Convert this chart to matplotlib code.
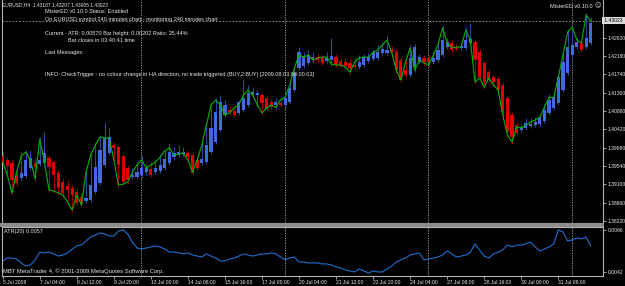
import matplotlib
matplotlib.use("Agg")
import matplotlib.pyplot as plt
from matplotlib.patches import Rectangle
import numpy as np

# ---------------- data ----------------
# Heiken-Ashi candles (EURUSD H4)
ha_open = [1.3978,1.3968,1.3961,1.3932,1.3925,1.3930,1.3949,1.3961,1.3958,1.3961,
           1.3973,1.3963,1.3937,1.3915,1.3906,1.3901,1.3891,1.3879,1.3870,1.3872,
           1.3891,1.3913,1.3956,1.3985,1.4004,1.3999,1.3978,1.3949,1.3927,1.3927,
           1.3932,1.3939,1.3946,1.3939,1.3942,1.3949,1.3961,1.3975,1.3980,1.3982,
           1.3985,1.3980,1.3968,1.3961,1.3963,1.3987,1.4011,1.4040,1.4076,1.4088,
           1.4086,1.4081,1.4088,1.4100,1.4124,1.4124,1.4124,1.4117,1.4107,1.4100,
           1.4105,1.4100,1.4107,1.4136,1.4189,1.4194,1.4201,1.4210,1.4215,1.4213,
           1.4206,1.4208,1.4215,1.4206,1.4203,1.4201,1.4196,1.4191,1.4196,1.4206,
           1.4210,1.4213,1.4225,1.4225,1.4232,1.4227,1.4208,1.4184,1.4172,1.4191,
           1.4203,1.4213,1.4213,1.4203,1.4208,1.4220,1.4239,1.4249,1.4239,1.4237,
           1.4237,1.4249,1.4251,1.4227,1.4201,1.4179,1.4167,1.4162,1.4148,1.4117,
           1.4076,1.4052,1.4040,1.4045,1.4050,1.4052,1.4054,1.4062,1.4081,1.4093,
           1.4105,1.4136,1.4177,1.4220,1.4239,1.4249,1.4239,1.4249]
ha_close = [1.3963,1.3954,1.3920,1.3913,1.3937,1.3968,1.3973,1.3951,1.3968,1.3985,
            1.3951,1.3932,1.3901,1.3889,1.3896,1.3884,1.3865,1.3862,1.3877,1.3908,
            1.3951,1.3992,1.4021,1.4023,1.3997,1.3956,1.3915,1.3920,1.3932,1.3939,
            1.3949,1.3949,1.3932,1.3949,1.3956,1.3970,1.3987,1.3985,1.3987,1.3987,
            1.3975,1.3937,1.3949,1.3970,1.4004,1.4045,1.4083,1.4107,1.4100,1.4083,
            1.4076,1.4107,1.4117,1.4129,1.4131,1.4129,1.4105,1.4093,1.4095,1.4107,
            1.4100,1.4117,1.4141,1.4177,1.4227,1.4218,1.4220,1.4215,1.4208,1.4201,
            1.4213,1.4218,1.4196,1.4194,1.4194,1.4189,1.4191,1.4203,1.4215,1.4215,
            1.4227,1.4227,1.4234,1.4232,1.4227,1.4184,1.4160,1.4172,1.4213,1.4239,
            1.4215,1.4203,1.4203,1.4213,1.4232,1.4256,1.4251,1.4232,1.4234,1.4242,
            1.4256,1.4258,1.4208,1.4167,1.4155,1.4160,1.4155,1.4136,1.4083,1.4035,
            1.4023,1.4033,1.4047,1.4057,1.4054,1.4059,1.4069,1.4088,1.4112,1.4119,
            1.4167,1.4203,1.4239,1.4244,1.4251,1.4232,1.4261,1.4297]
ha_high = [1.3987,1.3975,1.3968,1.3949,1.3987,1.3992,1.3992,1.3973,1.4023,1.4035,
           1.3980,1.3968,1.3944,1.3925,1.3920,1.3908,1.3901,1.3889,1.3944,1.3985,
           1.4009,1.4028,1.4059,1.4045,1.4011,1.4004,1.3982,1.3956,1.3949,1.3963,
           1.3980,1.3958,1.3963,1.3968,1.3980,1.3994,1.4009,1.3999,1.4004,1.3999,
           1.3992,1.3987,1.3975,1.4009,1.4057,1.4105,1.4117,1.4124,1.4112,1.4098,
           1.4098,1.4112,1.4160,1.4148,1.4141,1.4136,1.4131,1.4124,1.4114,1.4117,
           1.4119,1.4126,1.4155,1.4194,1.4239,1.4227,1.4232,1.4227,1.4222,1.4220,
           1.4227,1.4261,1.4222,1.4213,1.4213,1.4208,1.4213,1.4220,1.4222,1.4225,
           1.4234,1.4244,1.4251,1.4268,1.4242,1.4234,1.4215,1.4213,1.4244,1.4246,
           1.4222,1.4220,1.4220,1.4227,1.4251,1.4292,1.4261,1.4256,1.4246,1.4249,
           1.4287,1.4297,1.4258,1.4234,1.4208,1.4186,1.4174,1.4170,1.4155,1.4124,
           1.4083,1.4059,1.4054,1.4069,1.4069,1.4071,1.4078,1.4102,1.4126,1.4126,
           1.4174,1.4227,1.4280,1.4292,1.4263,1.4256,1.4321,1.4311]
ha_low = [1.3956,1.3927,1.3884,1.3906,1.3920,1.3925,1.3944,1.3918,1.3954,1.3956,
          1.3891,1.3889,1.3884,1.3879,1.3862,1.3843,1.3860,1.3855,1.3865,1.3867,
          1.3886,1.3908,1.3951,1.3980,1.3963,1.3903,1.3906,1.3910,1.3922,1.3922,
          1.3927,1.3932,1.3927,1.3934,1.3937,1.3944,1.3956,1.3970,1.3975,1.3978,
          1.3963,1.3932,1.3944,1.3956,1.3958,1.3982,1.4006,1.4035,1.4071,1.4076,
          1.4071,1.4076,1.4083,1.4095,1.4119,1.4095,1.4076,1.4088,1.4090,1.4090,
          1.4095,1.4095,1.4102,1.4131,1.4184,1.4189,1.4196,1.4203,1.4203,1.4196,
          1.4201,1.4194,1.4191,1.4189,1.4186,1.4174,1.4186,1.4186,1.4191,1.4201,
          1.4206,1.4208,1.4220,1.4220,1.4222,1.4179,1.4155,1.4167,1.4167,1.4179,
          1.4198,1.4196,1.4191,1.4198,1.4203,1.4215,1.4234,1.4227,1.4230,1.4232,
          1.4232,1.4244,1.4150,1.4160,1.4138,1.4155,1.4143,1.4131,1.4071,1.4023,
          1.4006,1.4028,1.4035,1.4040,1.4045,1.4047,1.4050,1.4057,1.4076,1.4088,
          1.4100,1.4131,1.4172,1.4215,1.4234,1.4227,1.4234,1.4244]
# actual close price line (green)
close = [1.3963,1.3932,1.3889,1.3939,1.3978,1.3987,1.3968,1.3922,1.4018,1.3963,
         1.3896,1.3894,1.3889,1.3884,1.3867,1.3848,1.3884,1.3860,1.3939,1.3980,
         1.4004,1.4023,1.4021,1.4021,1.3968,1.3908,1.3910,1.3915,1.3939,1.3956,
         1.3968,1.3949,1.3956,1.3963,1.3975,1.3990,1.3997,1.3980,1.3982,1.3985,
         1.3968,1.3939,1.3968,1.4004,1.4052,1.4100,1.4112,1.4100,1.4076,1.4081,
         1.4093,1.4100,1.4124,1.4136,1.4124,1.4100,1.4081,1.4093,1.4100,1.4095,
         1.4112,1.4119,1.4148,1.4189,1.4220,1.4215,1.4220,1.4208,1.4213,1.4215,
         1.4215,1.4198,1.4196,1.4196,1.4191,1.4179,1.4203,1.4213,1.4215,1.4215,
         1.4227,1.4232,1.4244,1.4256,1.4227,1.4184,1.4160,1.4203,1.4237,1.4184,
         1.4208,1.4201,1.4196,1.4220,1.4244,1.4285,1.4249,1.4237,1.4239,1.4239,
         1.4280,1.4256,1.4155,1.4165,1.4143,1.4165,1.4148,1.4136,1.4076,1.4028,
         1.4011,1.4047,1.4045,1.4052,1.4059,1.4064,1.4071,1.4095,1.4119,1.4117,
         1.4167,1.4220,1.4275,1.4287,1.4256,1.4249,1.4316,1.43023]
# ATR(20)
atr = [0.00483,0.00500,0.00500,0.00494,0.00472,0.00454,0.00460,0.00489,0.00534,0.00529,
       0.00534,0.00523,0.00511,0.00517,0.00529,0.00551,0.00569,0.00574,0.00597,0.00620,
       0.00631,0.00643,0.00637,0.00626,0.00626,0.00654,0.00660,0.00637,0.00591,0.00557,
       0.00551,0.00557,0.00563,0.00569,0.00563,0.00551,0.00534,0.00534,0.00529,0.00523,
       0.00529,0.00517,0.00511,0.00506,0.00523,0.00511,0.00500,0.00483,0.00483,0.00494,
       0.00500,0.00511,0.00523,0.00517,0.00511,0.00517,0.00523,0.00523,0.00529,0.00523,
       0.00506,0.00489,0.00500,0.00506,0.00477,0.00477,0.00472,0.00472,0.00472,0.00466,
       0.00466,0.00460,0.00449,0.00443,0.00432,0.00426,0.00420,0.00437,0.00426,0.00414,
       0.00426,0.00420,0.00420,0.00437,0.00454,0.00477,0.00489,0.00500,0.00517,0.00523,
       0.00529,0.00489,0.00494,0.00500,0.00506,0.00517,0.00540,0.00523,0.00506,0.00511,
       0.00517,0.00534,0.00580,0.00546,0.00511,0.00500,0.00523,0.00534,0.00546,0.00574,
       0.00563,0.00574,0.00574,0.00580,0.00591,0.00563,0.00540,0.00551,0.00563,0.00580,
       0.00660,0.00649,0.00597,0.00603,0.00614,0.00609,0.00620,0.00569]

time_labels = ['5 Jul 2009', '7 Jul 04:00', '8 Jul 12:00', '9 Jul 20:00', '13 Jul 00:00',
               '14 Jul 08:00', '15 Jul 16:00', '17 Jul 00:00', '20 Jul 04:00', '21 Jul 12:00',
               '22 Jul 20:00', '24 Jul 04:00', '27 Jul 08:00', '28 Jul 16:00', '30 Jul 00:00',
               '31 Jul 08:00']
price_ticks = [1.42620, 1.42180, 1.41740, 1.41300, 1.40860, 1.40420,
               1.39980, 1.39540, 1.39100, 1.38660, 1.38220]
current_price = 1.43023
atr_ticks = [0.0066, 0.0042]
separators = [29.9, 61.0, 91.9, 123.0]

# ---------------- style ----------------
W, H = 625, 286
FONT = 'Liberation Sans'
TXT = '#e8e8e8'
AXC = '#b4b4b4'
BLUE = '#4169E1'
RED = '#E00000'
BLUE_W = '#2a4aa8'
RED_W = '#a00000'

def fx(px):
    return px / W

def fy(py):
    return 1 - py / H

fig = plt.figure(figsize=(W / 100, H / 100), dpi=100, facecolor='black')

ax = fig.add_axes([fx(2), fy(223), fx(601), 223 / H])
ax2 = fig.add_axes([fx(2), fy(276), fx(601), 49 / H], sharex=ax)
for a in (ax, ax2):
    a.set_facecolor('black')
    for s in a.spines.values():
        s.set_color(AXC)
        s.set_linewidth(0.8)

n = len(close)
x = np.arange(n)

# candles
up = [c >= o for o, c in zip(ha_open, ha_close)]
wcol = [BLUE_W if u else RED_W for u in up]
bcol = [BLUE if u else RED for u in up]
ax.vlines(x, ha_low, ha_high, colors=wcol, linewidth=0.7, zorder=2)
bottoms = [min(o, c) for o, c in zip(ha_open, ha_close)]
heights = [max(abs(c - o), 0.00006) for o, c in zip(ha_open, ha_close)]
ax.bar(x, heights, bottom=bottoms, width=0.68, color=bcol, linewidth=0, zorder=3)
ax.plot(x, close, color='#00b400', linewidth=0.8, zorder=4)

ax.set_xlim(-0.15, 129.65)
ax.set_ylim(1.38168, 1.43520)
ax.axhline(current_price, color='#9a9a9a', linewidth=0.6, linestyle=(0, (2, 2)), zorder=1)

ax.yaxis.tick_right()
ax.set_yticks(price_ticks)
ax.set_yticklabels([f'{v:.5f}' for v in price_ticks])
ax.tick_params(axis='y', colors=AXC, length=2, width=0.6, pad=1.5, labelsize=3.6,
               labelcolor=TXT)
for lab in ax.get_yticklabels():
    lab.set_fontfamily(FONT)
ax.tick_params(axis='x', bottom=False, labelbottom=False)
ax.spines['top'].set_visible(False)

ax.text(1.0, current_price, f' {current_price:.5f} ', transform=ax.get_yaxis_transform(),
        ha='left', va='center', fontsize=3.6, family=FONT, color='black',
        bbox=dict(boxstyle='square,pad=0.15', fc='#dcdcdc', ec='none'), clip_on=False)

# ATR panel
ax2.plot(x, atr, color='#1f6fd0', linewidth=0.8)
ax2.set_ylim(0.00397, 0.00677)
ax2.yaxis.tick_right()
ax2.set_yticks(atr_ticks)
ax2.set_yticklabels([f'{v:.4f}' for v in atr_ticks])
ax2.tick_params(axis='y', colors=AXC, length=2, width=0.6, pad=1.5, labelsize=3.6,
                labelcolor=TXT)
ax2.set_xticks(np.arange(0, 8 * len(time_labels), 8))
ax2.set_xticklabels(time_labels)
ax2.tick_params(axis='x', colors=AXC, length=2, width=0.6, pad=1.0, labelsize=3.6,
                labelcolor=TXT)
for lab in ax2.get_xticklabels() + ax2.get_yticklabels():
    lab.set_fontfamily(FONT)
for lab in ax2.get_xticklabels():
    lab.set_ha('left')

for s in separators:
    for a in (ax, ax2):
        a.axvline(s, color='#a8a8a8', linewidth=0.6, linestyle=(0, (1.5, 1.5)), zorder=1)

# separator band between panels
fig.patches.append(Rectangle((fx(0), fy(227)), fx(604), 4 / H, transform=fig.transFigure,
                             facecolor='#8c8c8c', edgecolor='none'))

# texts
def t(px, py, s, **kw):
    fig.text(fx(px), fy(py), s, ha=kw.pop('ha', 'left'), va='center', color=kw.pop('color', TXT),
             fontsize=kw.pop('fontsize', 4.0), family=FONT, **kw)

t(2, 4.5, 'EURUSD,H4  1.43187 1.43207 1.43005 1.43023', fontsize=3.5)
t(45, 11.5, 'MisterED v0.10.0 Status: Enabled')
t(45, 19, 'On EURUSD symbol 240 minutes chart - monitoring 240 minutes chart')
t(45, 33, 'Current - ATR: 0.00570 Bar height: 0.00202 Ratio: 35.44%')
t(68, 40, 'Bar closes in 03:40:41 time')
t(45, 52.5, 'Last Messages:')
t(45, 74.5, 'INFO: CheckTrigger - no colour change in HA direction, no trade triggered (BUY,2:BUY) [2009.08.03 08:00:03]')
t(593, 6, 'MisterED v0.10.0', ha='right')
fig.text(fx(598), fy(6), '\u263a', ha='center', va='center', color=TXT, fontsize=4.5,
         family='DejaVu Sans')
t(4, 231.5, 'ATR(20) 0.0057')
t(3, 271.5, 'MBT MetaTrader 4, \u00a9 2001-2009 MetaQuotes Software Corp.', fontsize=4.2)

fig.savefig('out.png', dpi=100, facecolor='black')
